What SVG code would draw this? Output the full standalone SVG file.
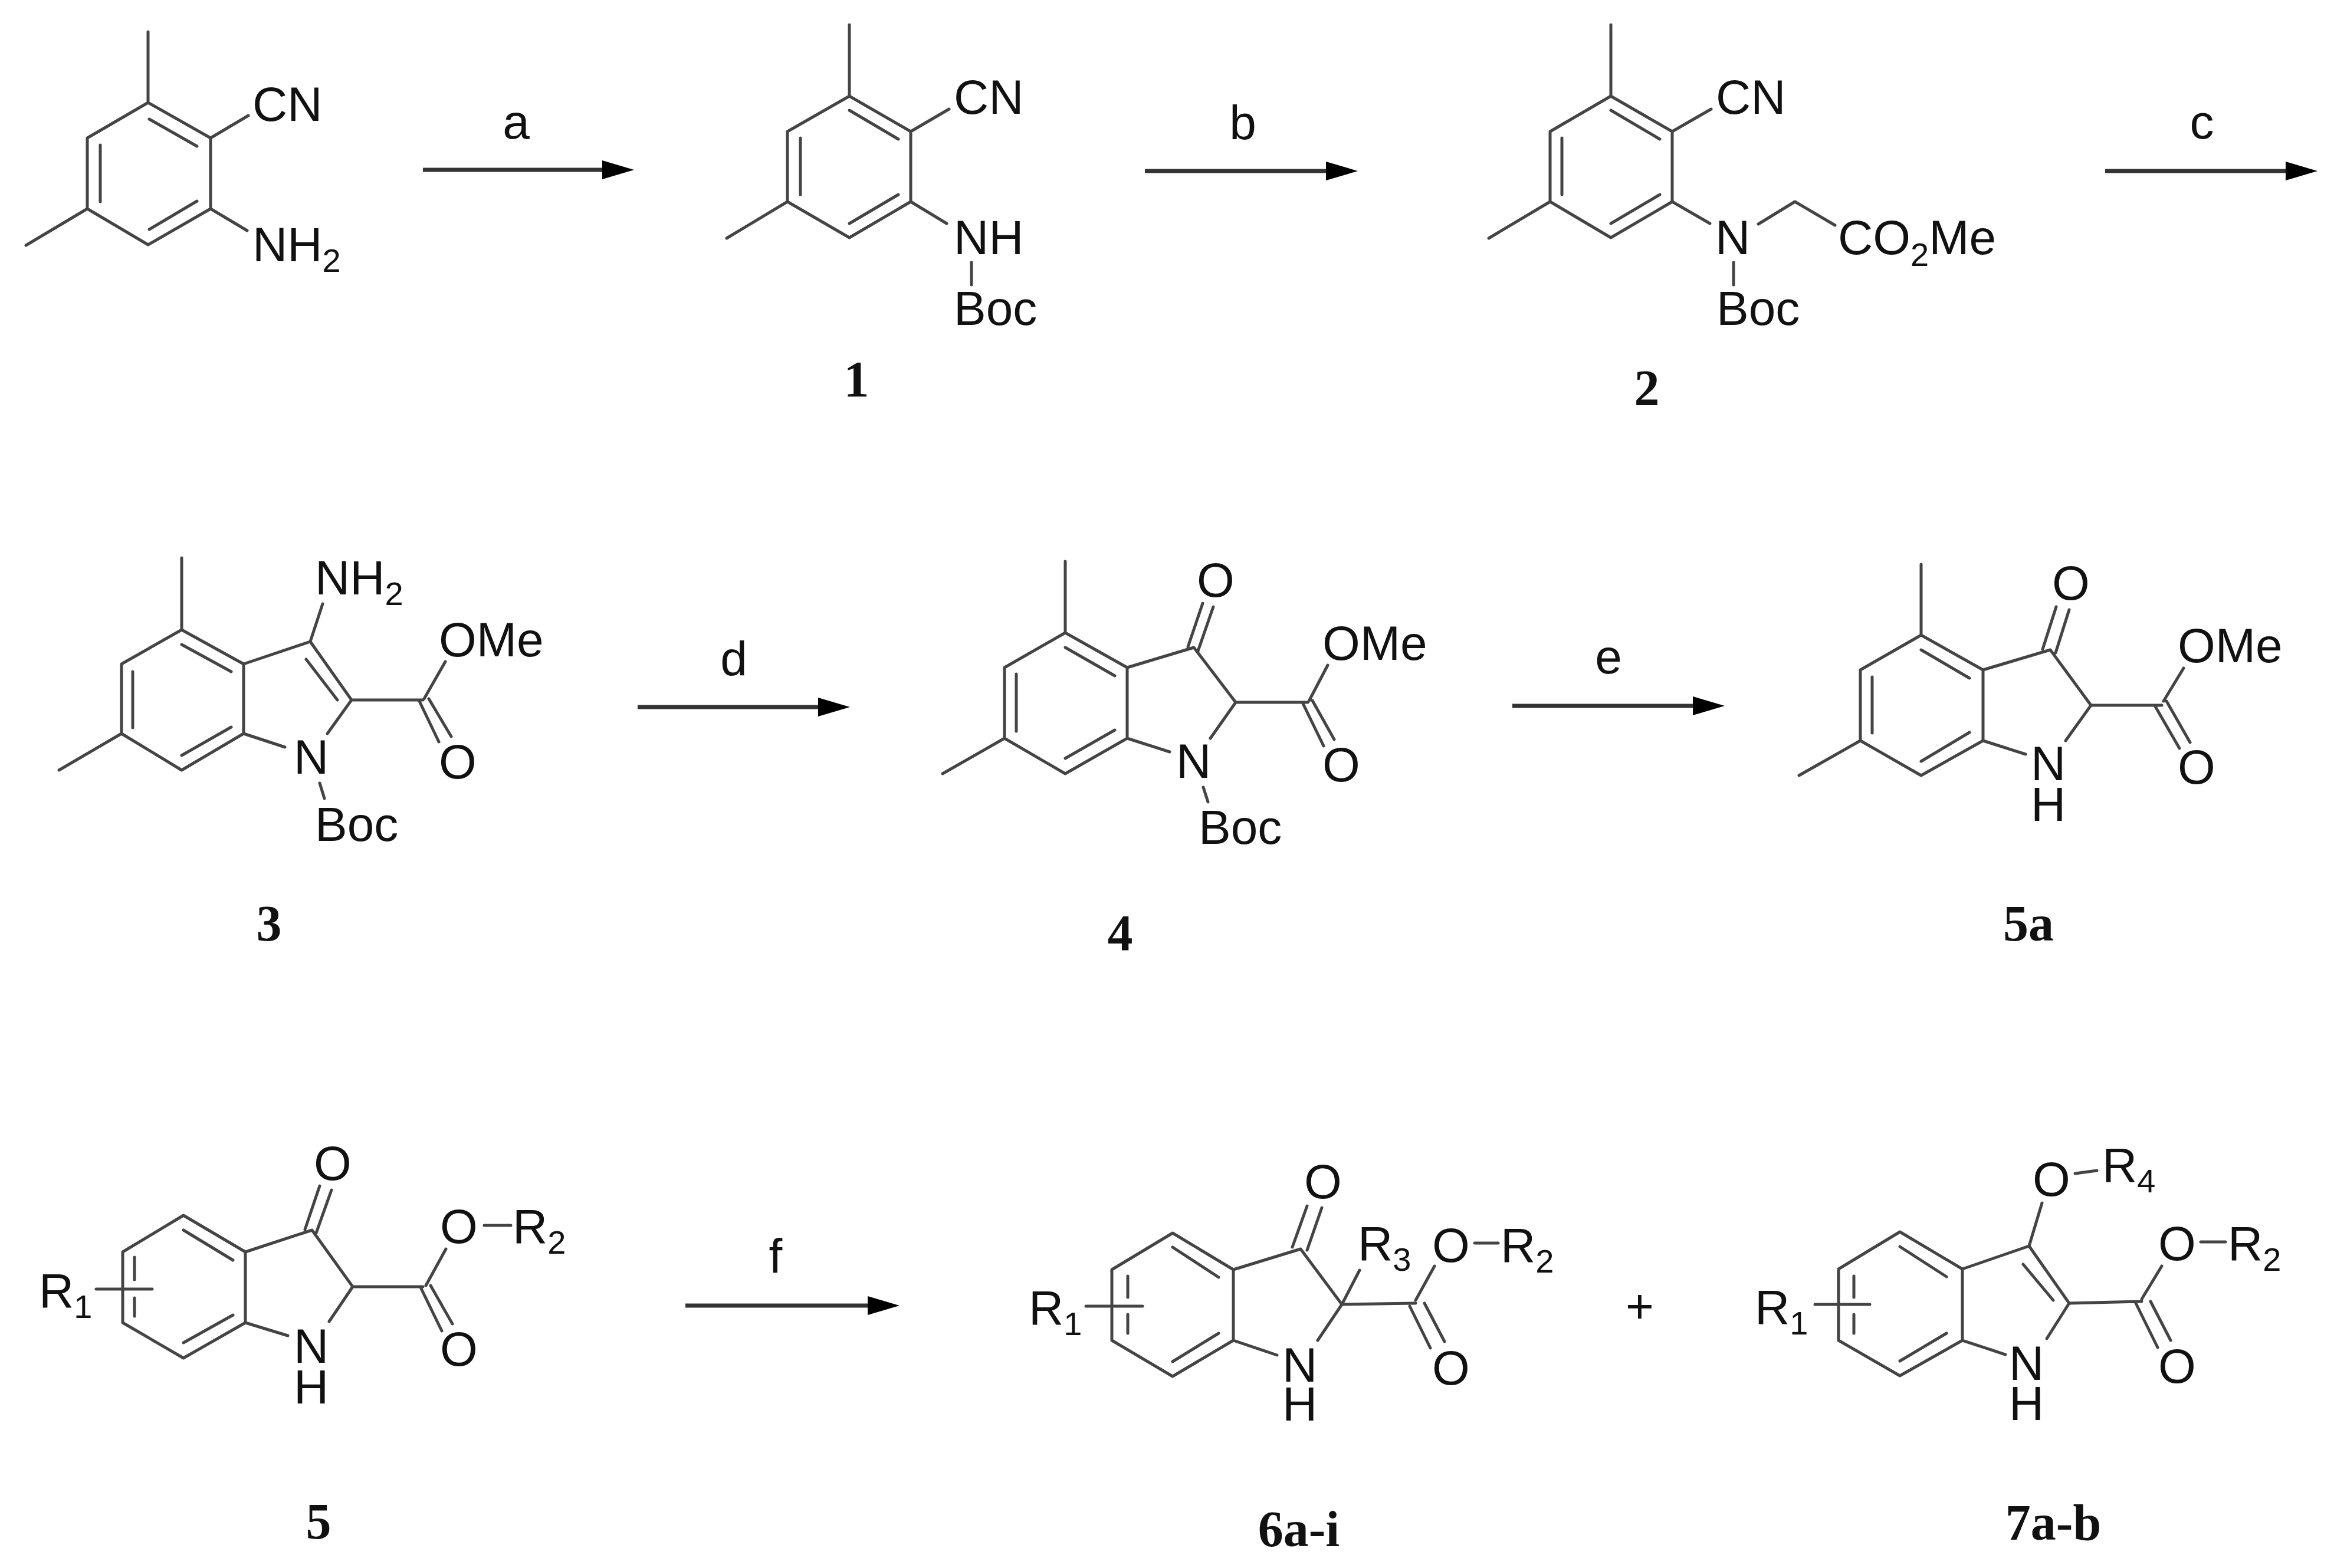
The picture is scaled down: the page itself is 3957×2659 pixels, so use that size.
<svg xmlns="http://www.w3.org/2000/svg" width="3957" height="2659" viewBox="0 0 3957 2659">
<style>
.b{fill:none;stroke:#444;stroke-width:5;stroke-linecap:round;stroke-linejoin:round}
.a{fill:none;stroke:#333;stroke-width:7}
text{font-family:"Liberation Sans",Arial,sans-serif;font-size:82px;fill:#111}
.s{font-size:56px}
.n{font-family:"Liberation Serif","Times New Roman",serif;font-weight:bold;font-size:86px;text-anchor:middle}
.l{text-anchor:middle}
</style>
<defs>
<marker id="h" markerUnits="userSpaceOnUse" markerWidth="54" markerHeight="32" refX="0" refY="16" orient="auto"><path d="M0 0L54 16L0 32Z" fill="#000"/></marker>
</defs>
<rect width="3957" height="2659" fill="#fff"/>
<g id="connectors">
<line class="a" x1="717" y1="288" x2="1021" y2="288" marker-end="url(#h)"/>
<line class="a" x1="1941" y1="290" x2="2248" y2="290" marker-end="url(#h)"/>
<line class="a" x1="3569" y1="290" x2="3875" y2="290" marker-end="url(#h)"/>
<line class="a" x1="1081" y1="1199" x2="1387" y2="1199" marker-end="url(#h)"/>
<line class="a" x1="2564" y1="1197" x2="2870" y2="1197" marker-end="url(#h)"/>
<line class="a" x1="1162" y1="2214" x2="1471" y2="2214" marker-end="url(#h)"/>
<text class="l" x="875" y="235">a</text>
<text class="l" x="2107" y="236">b</text>
<text class="l" x="3733" y="235">c</text>
<text class="l" x="1244" y="1145">d</text>
<text class="l" x="2727" y="1142">e</text>
<text class="l" x="1315" y="2158">f</text>
</g>
<g id="m0">
<path class="b" d="M251 174L357 234V354L251 415L148 354V234ZM251 54V174M148 354L44 416M357 234L421 196M357 354L419 391M253 202L334 248M170 246V342M253 389L334 341"/>
<text x="428" y="205">CN</text>
<text x="428" y="443">NH<tspan class="s" dy="18">2</tspan></text>
</g>
<g id="m1">
<path class="b" d="M1440 163L1544 223V342L1440 403L1335 342V223ZM1440 42V163M1335 342L1232 404M1544 223L1609 185M1544 342L1605 379M1440 187L1523 236M1357 234V330M1440 379L1523 330M1647 445V483"/>
<text x="1617" y="193">CN</text>
<text x="1617" y="431">NH</text>
<text x="1617" y="551">Boc</text>
<text class="n" x="1452" y="672">1</text>
</g>
<g id="m2">
<path class="b" d="M2731 163L2835 223V342L2731 403L2628 342V223ZM2731 42V163M2628 342L2524 404M2835 223L2901 185M2835 342L2899 379M2731 187L2814 236M2648 234V330M2731 379L2814 330M2981 380L3043 342L3111 382M2939 445V483"/>
<text x="2909" y="193">CN</text>
<text x="2908" y="431">N</text>
<text x="3116" y="431">CO<tspan class="s" dy="20">2</tspan><tspan dy="-20">Me</tspan></text>
<text x="2910" y="551">Boc</text>
<text class="n" x="2792" y="687">2</text>
</g>
<g id="m3">
<path class="b" d="M308 1068L413 1126V1244L308 1306L206 1244V1126ZM308 946V1068M206 1244L100 1306M308 1093L392 1139M225 1139V1234M308 1281L392 1233M413 1126L526 1088L596 1187M519 1118L572 1187M526 1088L547 1024M596 1187H717M719 1185L755 1122M710 1187L744 1258M727 1185L765 1249M596 1187L555 1244M413 1244L483 1267M542 1328L550 1354"/>
<text x="534" y="1008">NH<tspan class="s" dy="18">2</tspan></text>
<text x="744" y="1113">OMe</text>
<text x="744" y="1320">O</text>
<text x="498" y="1312">N</text>
<text x="534" y="1426">Boc</text>
<text class="n" x="456" y="1595">3</text>
</g>
<g id="m4">
<path class="b" d="M1806 1073L1911 1132V1252L1806 1312L1703 1252V1132ZM1806 952V1073M1703 1252L1598 1312M1806 1098L1890 1146M1723 1143V1240M1806 1286L1890 1238M1911 1132L2024 1098L2095 1191M2014 1097L2039 1023M2031 1104L2057 1029M2095 1191H2217M2219 1189L2251 1128M2208 1191L2244 1265M2225 1188L2262 1254M2095 1191L2052 1252M1911 1252L1983 1275M2040 1335L2048 1360"/>
<text x="2029" y="1012">O</text>
<text x="2242" y="1119">OMe</text>
<text x="2242" y="1325">O</text>
<text x="1994" y="1319">N</text>
<text x="2032" y="1431">Boc</text>
<text class="n" x="1899" y="1611">4</text>
</g>
<g id="m5a">
<path class="b" d="M3257 1077L3362 1136V1256L3257 1315L3154 1256V1136ZM3257 957V1077M3154 1256L3050 1315M3257 1102L3339 1150M3174 1148V1243M3257 1291L3339 1242M3362 1136L3476 1102L3545 1196M3463 1101L3486 1029M3485 1107L3508 1034M3545 1196H3665M3668 1189L3702 1133M3654 1198L3695 1269M3673 1189L3713 1259M3545 1196L3502 1256M3362 1256L3434 1279"/>
<text x="3479" y="1017">O</text>
<text x="3692" y="1123">OMe</text>
<text x="3692" y="1329">O</text>
<text x="3443" y="1323">N<tspan x="3443" dy="69">H</tspan></text>
<text class="n" x="3439" y="1595">5a</text>
</g>
<g id="m5">
<path class="b" d="M311 2061L416 2123V2243L311 2303L208 2243V2123ZM311 2086L395 2137M228 2132V2170M228 2201V2232M311 2277L395 2230M163 2186H258M416 2123L529 2086L598 2182M517 2085L542 2011M536 2091L562 2018M598 2182H717M722 2180L756 2118M821 2078H866M713 2183L749 2257M730 2180L767 2245M598 2182L558 2241M416 2243L488 2265"/>
<text x="66" y="2217">R<tspan class="s" dy="18">1</tspan></text>
<text x="532" y="2001">O</text>
<text x="746" y="2108">O</text>
<text x="869" y="2108">R<tspan class="s" dy="18">2</tspan></text>
<text x="746" y="2316">O</text>
<text x="498" y="2311">N<tspan x="498" dy="69">H</tspan></text>
<text class="n" x="540" y="2609">5</text>
</g>
<g id="m6">
<path class="b" d="M1988 2091L2091 2153V2273L1988 2334L1885 2273V2153ZM1988 2115L2066 2166M1912 2164V2200M1912 2229V2261M1988 2309L2066 2261M1841 2215H1937M2091 2153L2205 2118L2275 2212M2191 2115L2216 2045M2216 2120L2241 2048M2275 2212L2305 2154M2275 2212L2400 2210M2400 2205L2432 2147M2500 2108H2540M2390 2215L2425 2286M2415 2210L2449 2275M2275 2212L2234 2273M2091 2273L2165 2298"/>
<text x="1744" y="2246">R<tspan class="s" dy="18">1</tspan></text>
<text x="2211" y="2032">O</text>
<text x="2302" y="2137">R<tspan class="s" dy="18">3</tspan></text>
<text x="2428" y="2140">O</text>
<text x="2544" y="2140">R<tspan class="s" dy="18">2</tspan></text>
<text x="2428" y="2348">O</text>
<text x="2174" y="2343">N<tspan x="2174" dy="66">H</tspan></text>
<text class="n" x="2202" y="2622">6a-i</text>
</g>
<text id="plus" class="l" x="2780" y="2243">+</text>
<g id="m7">
<path class="b" d="M3221 2089L3327 2152V2273L3221 2333L3117 2273V2152ZM3221 2114L3300 2165M3143 2164V2200M3143 2229V2261M3221 2308L3300 2261M3077 2212H3170M3327 2152L3440 2113L3508 2210M3430 2144L3481 2205M3440 2113L3462 2040M3518 1990L3555 1985M3508 2210L3631 2207M3631 2203L3665 2147M3731 2106H3773M3621 2210L3658 2285M3646 2207L3680 2273M3508 2210L3470 2270M3327 2273L3400 2297"/>
<text x="2975" y="2245">R<tspan class="s" dy="18">1</tspan></text>
<text x="3446" y="2028">O</text>
<text x="3564" y="2004">R<tspan class="s" dy="18">4</tspan></text>
<text x="3659" y="2137">O</text>
<text x="3777" y="2137">R<tspan class="s" dy="18">2</tspan></text>
<text x="3659" y="2345">O</text>
<text x="3406" y="2340">N<tspan x="3406" dy="68">H</tspan></text>
<text class="n" x="3481" y="2611">7a-b</text>
</g>
</svg>
